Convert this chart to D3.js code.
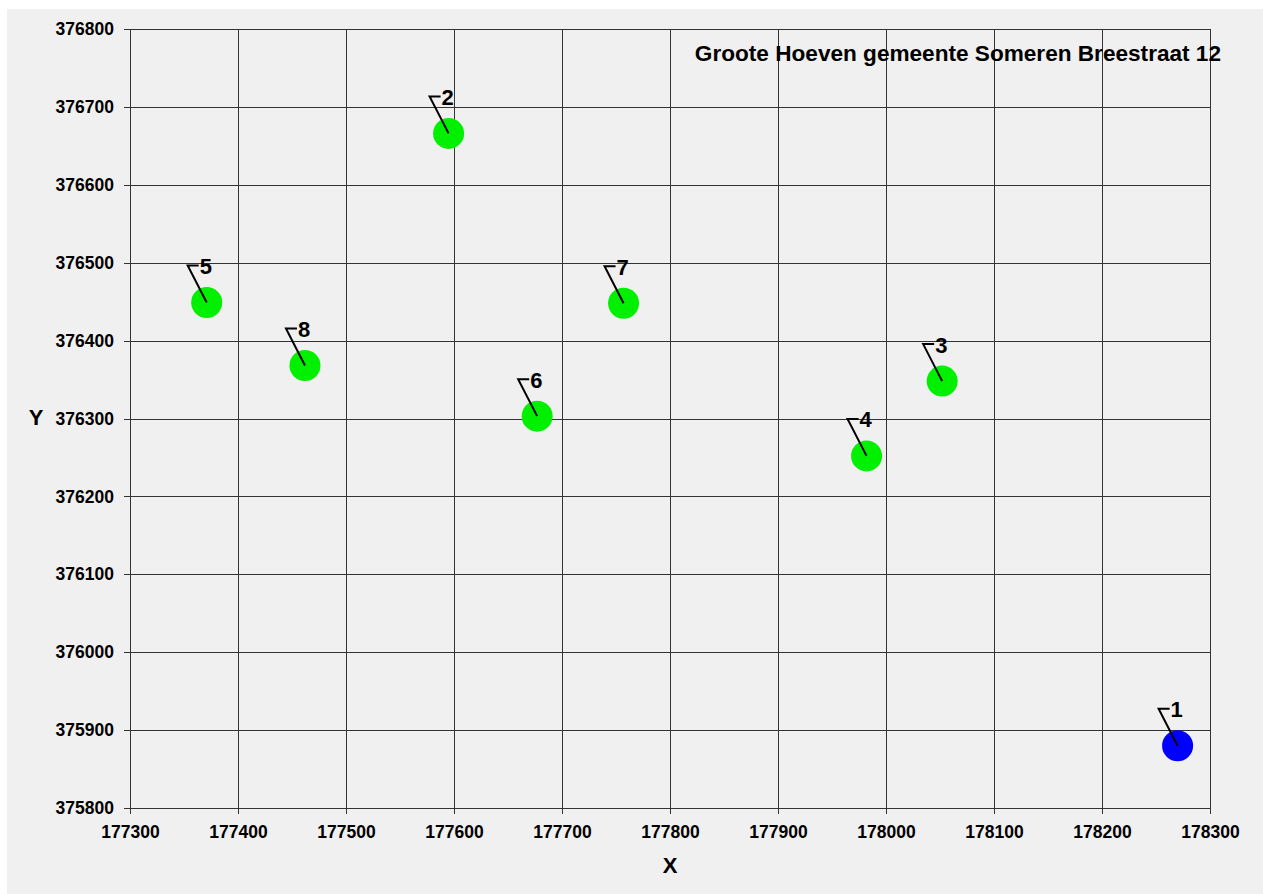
<!DOCTYPE html>
<html>
<head>
<meta charset="utf-8">
<style>
  body { margin: 0; background: #fff; }
  svg { display: block; font-family: Arial, "Liberation Sans", sans-serif; font-weight: bold; }
  .grid line { stroke: #333; stroke-width: 1px; shape-rendering: crispEdges; }
  .grid text { fill: #000; font-size: 17.5px; }
  .lead { fill: none; stroke: #000; stroke-width: 2px; }
</style>
<title>Groote Hoeven gemeente Someren Breestraat 12</title>
</head>
<body>
<div id="chart"></div>
<script src="https://d3js.org/d3.v7.min.js"></script>
<script>
// point numbers, coordinates (RD x / y) and colour class
var pointIds = ["1", "2", "3", "4", "5", "6", "7", "8"];
var xValues  = [178270, 177595, 178052, 177982, 177371, 177677, 177757, 177462];
var yValues  = [375880, 376666, 376348, 376252, 376449, 376303, 376448, 376368];
var pointKind = ["ref", "obs", "obs", "obs", "obs", "obs", "obs", "obs"];

var xTicks = d3.range(177300, 178301, 100);
var yTicks = d3.range(375800, 376801, 100);
var title = "Groote Hoeven gemeente Someren Breestraat 12";

var width = 1263, height = 894;
var mLeft = 130, mRight = 1210, mTop = 29, mBottom = 808;

var svg = d3.select("#chart").append("svg")
    .attr("width", width)
    .attr("height", height);

svg.append("rect")
    .attr("x", 7).attr("y", 9)
    .attr("width", width - 7).attr("height", height - 9)
    .attr("fill", "#f0f0f0");

var x = d3.scaleLinear().domain([177300, 178300]).range([mLeft, mRight]);
var y = d3.scaleLinear().domain([375800, 376800]).range([mBottom, mTop]);

// y grid + labels (ticks stick out 6px to the left)
var gy = svg.append("g")
    .attr("class", "grid")
    .attr("transform", "translate(" + (mLeft - 6) + ",0)")
    .call(d3.axisLeft(y).tickValues(yTicks).tickSize(-(mRight - mLeft + 6)).tickPadding(10).tickFormat(d3.format("d")));
gy.select(".domain").remove();

// x grid + labels
var gx = svg.append("g")
    .attr("class", "grid")
    .attr("transform", "translate(0," + (mBottom + 6) + ")")
    .call(d3.axisBottom(x).tickValues(xTicks).tickSize(-(mBottom - mTop + 6)).tickPadding(12).tickFormat(d3.format("d")));
gx.select(".domain").remove();

// axis titles
svg.append("text")
    .attr("x", 36).attr("y", 425)
    .attr("text-anchor", "middle")
    .attr("font-size", 22)
    .text("Y");

svg.append("text")
    .attr("x", 670).attr("y", 873)
    .attr("text-anchor", "middle")
    .attr("font-size", 22)
    .text("X");

svg.append("text")
    .attr("x", 1221).attr("y", 61)
    .attr("text-anchor", "end")
    .attr("font-size", 22.6)
    .text(title);

var pts = pointIds.map(function(id, i) {
  return { id: id, x: xValues[i], y: yValues[i], kind: pointKind[i] };
});

var colour = { ref: "#0000ff", obs: "#00f000" };

var p = svg.append("g").selectAll("g")
    .data(pts)
    .enter().append("g")
    .attr("transform", function(d) { return "translate(" + x(d.x) + "," + y(d.y) + ")"; });

p.append("circle")
    .attr("r", 15.5)
    .attr("fill", function(d) { return colour[d.kind]; });

p.append("path")
    .attr("class", "lead")
    .attr("d", "M0,0L-19,-37L-8,-37");

p.append("text")
    .attr("x", -7)
    .attr("y", -28.5)
    .attr("font-size", 22)
    .text(function(d) { return d.id; });
</script>
</body>
</html>
